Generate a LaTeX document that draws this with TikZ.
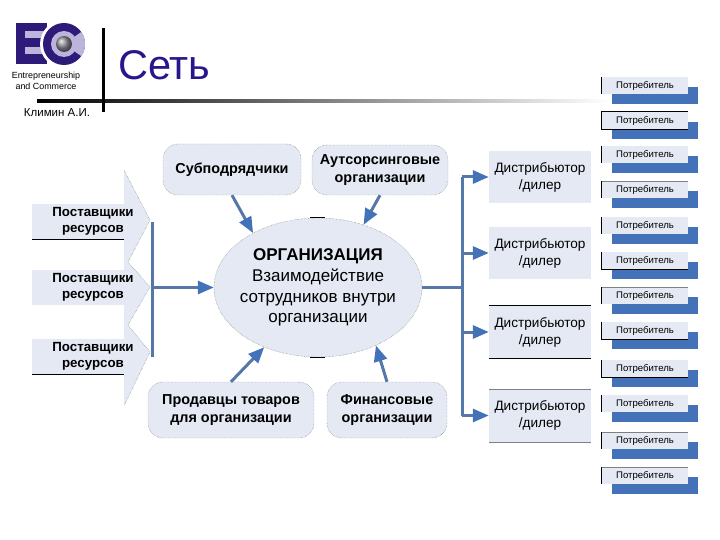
\documentclass[tikz,border=0pt]{standalone}
\usepackage{fontspec}
\setmainfont{Liberation Sans}
\usetikzlibrary{arrows.meta,shapes.geometric,shadows}
\definecolor{panel}{HTML}{E4E9F3}
\definecolor{steel}{HTML}{5578A8}
\definecolor{tipblue}{HTML}{4472B8}
\definecolor{ink}{HTML}{2E1A78}
\definecolor{lilac}{HTML}{BDB4DC}
\begin{document}
\begin{tikzpicture}[x = 1pt, y = -1pt,
	bar/.style = {steel, line width = 3pt},
	link/.style = {steel, line width = 3pt, -{Triangle[length = 16pt, width = 13pt, color = tipblue]}},
	partner/.style = {draw = black!60, densely dotted, fill = panel, rounded corners = 15pt, inner sep = 0, align = center, font = \bfseries\fontsize{14.4}{18}\selectfont, text = black},
	dealer/.style = {fill = panel, minimum width = 102pt, minimum height = 52pt, inner sep = 0, align = center, font = \fontsize{13.6}{17}\selectfont},
	supplier/.style = {fill = panel, minimum width = 92pt, minimum height = 35pt, inner sep = 0},
	suppliertext/.style = {align = center, inner sep = 0, font = \bfseries\fontsize{13.3}{16}\selectfont},
	buyer/.style = {fill = panel, minimum width = 86pt, minimum height = 17pt, inner sep = 0, font = \fontsize{9.6}{11}\selectfont, drop shadow = {shadow xshift = 10pt, shadow yshift = -10pt, fill = tipblue, opacity = 1}},
	edge/.style = {black, line width = 0.7pt}]
	\useasboundingbox (0,0) rectangle (720,540);
	\fill[ink] (16,23) rectangle (47,64);
	\fill[lilac] (25,31) rectangle (47,38);
	\fill[lilac] (25,47) rectangle (47,54);
	\fill[white] (64,44) circle (24);
	\fill[ink] (64,44) circle (21);
	\fill[lilac] (64,44) -- (81.2,32) arc (-35:35:21) -- cycle;
	\fill[lilac] (64,44) circle (13);
	\shade[ball color = gray!70!lilac] (64,44) circle (8);
	\node[font = \fontsize{8.9}{11}\selectfont, align = center, inner sep = 0] (brand) at (46,80.5) {Entrepreneurship\\and Commerce};
	\node[font = \fontsize{11.5}{13}\selectfont, inner sep = 0] (author) at (57,113) {Климин А.И.};
	\node[font = \fontsize{41.5}{46}\selectfont, text = ink!85!blue, inner sep = 0, anchor = base west] (title) at (118,80) {Сеть};
	\shade[left color = black, right color = white] (37,100) rectangle (610,102.5);
	\draw[black, line width = 3pt] (103,28) -- (103,112);
	\draw[fill = panel, densely dotted, draw = black!60] (124,170) -- (150,220) -- (128,262) -- (150,287) -- (128,325) -- (150,352) -- (124,406);
	\node[supplier] (p1) at (78,221.5) {};
	\node[supplier] (p2) at (78,287.5) {};
	\node[supplier] (p3) at (78,356.5) {};
	\node[suppliertext] (t1) at (93,221.5) {Поставщики\\ресурсов};
	\node[suppliertext] (t2) at (93,287) {Поставщики\\ресурсов};
	\node[suppliertext] (t3) at (93,356) {Поставщики\\ресурсов};
	\draw[edge] (p1.south west) -- (p1.south east);
	\draw[edge] (p3.south west) -- (p3.south east);
	\node[draw = black!60, densely dotted, fill = panel, ellipse, minimum width = 208pt, minimum height = 139pt, inner xsep = -8pt, inner ysep = 0, align = center, font = \fontsize{17}{20.8}\selectfont] (org) at (318,287.5) {\textbf{ОРГАНИЗАЦИЯ}\\Взаимодействие\\сотрудников внутри\\организации};
	\draw[edge] ([xshift = -8pt]org.north) -- ([xshift = 7pt]org.north);
	\draw[edge] ([xshift = -8pt]org.south) -- ([xshift = 7pt]org.south);
	\node[partner, minimum width = 138pt, minimum height = 51pt] (sub) at (232,169.5) {Субподрядчики};
	\node[partner, minimum width = 136pt, minimum height = 50pt] (out) at (380,170) {Аутсорсинговые\\организации};
	\node[partner, minimum width = 166pt, minimum height = 56pt] (sell) at (231,410) {Продавцы товаров\\для организации};
	\node[partner, minimum width = 120pt, minimum height = 56pt] (fin) at (387,410) {Финансовые\\организации};
	\coordinate (in) at (152,287.5);
	\coordinate (in1) at (152,222);
	\coordinate (in2) at (152,357);
	\coordinate (hub) at (462,287.5);
	\coordinate (hub1) at (462,177);
	\coordinate (hub2) at (462,253);
	\coordinate (hub3) at (462,332);
	\coordinate (hub4) at (462,415.5);
	\node[dealer] (d1) at (540,177) {Дистрибьютор\\/дилер};
	\node[dealer] (d2) at (540,253) {Дистрибьютор\\/дилер};
	\node[dealer] (d3) at (540,332) {Дистрибьютор\\/дилер};
	\node[dealer] (d4) at (540,415.5) {Дистрибьютор\\/дилер};
	\draw[edge] (d3.north west) -- (d3.north east);
	\draw[edge] (d3.south west) -- (d3.south east);
	\draw[gray] (d4.north west) -- (d4.north east);
	\draw[gray] (d4.south west) -- (d4.south east);
	\draw[bar] (in1) -- (in2);
	\draw[link] (in) -- (org.west);
	\draw[bar] (org.east) -- (hub);
	\draw[bar] (hub1) -- (hub4);
	\draw[link] (hub1) -- (d1.west);
	\draw[link] (hub2) -- (d2.west);
	\draw[link] (hub3) -- (d3.west);
	\draw[link] (hub4) -- (d4.west);
	\draw[link] (sub.south) -- (org.140);
	\draw[link] (out.south) -- (org.54);
	\draw[link] (sell.north) -- (org.228);
	\draw[link] (fin.north) -- (org.315);
	\node[buyer] (c1) at (645,85.5) {Потребитель};
	\node[buyer] (c2) at (645,120.5) {Потребитель};
	\node[buyer] (c3) at (645,154.5) {Потребитель};
	\node[buyer] (c4) at (645,189.5) {Потребитель};
	\node[buyer] (c5) at (645,225.5) {Потребитель};
	\node[buyer] (c6) at (645,260.5) {Потребитель};
	\node[buyer] (c7) at (645,295.5) {Потребитель};
	\node[buyer] (c8) at (645,330.5) {Потребитель};
	\node[buyer] (c9) at (645,368.5) {Потребитель};
	\node[buyer] (c10) at (645,403.5) {Потребитель};
	\node[buyer] (c11) at (645,440.5) {Потребитель};
	\node[buyer] (c12) at (645,475.5) {Потребитель};
	\draw[edge] (c1.north west) -- (c1.south west);
	\draw[edge] (c2.north east) -- (c2.north west) -- (c2.south west) -- (c2.south east);
	\draw[edge] (c3.north west) -- (c3.south west);
	\draw[edge] (c4.north west) -- (c4.south west);
	\draw[edge] (c5.north west) -- (c5.south west);
	\draw[edge] (c6.north west) -- (c6.south west) -- (c6.south east);
	\draw[edge] (c7.north west) -- (c7.south west);
	\draw[edge] (c8.north west) -- (c8.south west) -- (c8.south east);
	\draw[edge] (c9.north west) -- (c9.south west) -- (c9.south east);
	\draw[edge] (c10.north west) -- (c10.south west);
	\draw[edge] (c11.north west) -- (c11.south west);
	\draw[edge] (c12.north west) -- (c12.south west);
	\draw[gray] (c4.north west) -- (c4.north east);
	\draw[gray] (c7.north west) -- (c7.north east);
	\draw[gray] (c11.north west) -- (c11.north east);
	\draw[gray] (c12.north west) -- (c12.north east);
\end{tikzpicture}
\end{document}
